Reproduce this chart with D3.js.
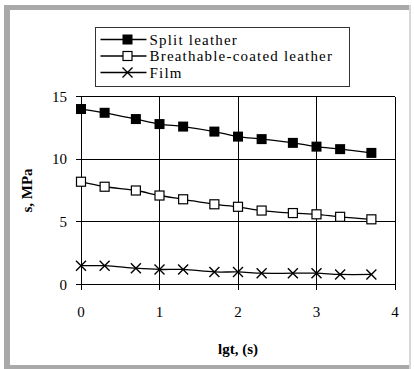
<!DOCTYPE html>
<html>
<head>
<meta charset="utf-8">
<script src="https://cdn.jsdelivr.net/npm/d3@7"></script>
<style>
  body { margin: 0; background: #fff; }
</style>
</head>
<body>
<div id="chart"></div>
<script>
// lg of time in seconds: 1, 2, 5, 10, ... 5000
const lgt = [0, 0.301, 0.699, 1, 1.301, 1.699, 2, 2.301, 2.699, 3, 3.301, 3.699]
const splitLeather = [14.0, 13.7, 13.2, 12.8, 12.6, 12.2, 11.8, 11.6, 11.3, 11.0, 10.8, 10.5]
const coatedLeather = [8.2, 7.8, 7.5, 7.1, 6.8, 6.4, 6.2, 5.9, 5.7, 5.6, 5.4, 5.2]
const film = [1.5, 1.5, 1.3, 1.2, 1.2, 1.0, 1.0, 0.9, 0.9, 0.9, 0.8, 0.8]
const seriesNames = ['Split leather', 'Breathable-coated leather', 'Film']
const xTicks = [0, 1, 2, 3, 4]
const yTicks = [0, 5, 10, 15]

const width = 414, height = 369
const margin = { top: 96.5, right: 19, bottom: 84.5, left: 81 }
const serif = "'Liberation Serif', 'Times New Roman', Times, 'DejaVu Serif', serif"

const svg = d3.select('#chart').append('svg')
  .attr('width', width)
  .attr('height', height)
  .attr('font-family', serif)
  .style('font-family', serif)

// outer grey frame
svg.append('rect').attr('x', 4).attr('y', 5).attr('width', 6).attr('height', 364).attr('fill', '#a9a9a9')
svg.append('rect').attr('x', 4).attr('y', 5).attr('width', 406).attr('height', 5).attr('fill', '#a9a9a9')
svg.append('rect').attr('x', 4).attr('y', 365).attr('width', 406).attr('height', 4).attr('fill', '#a9a9a9')
svg.append('rect').attr('x', 409).attr('y', 5).attr('width', 2).attr('height', 364).attr('fill', '#d8d8d8')

const x = d3.scaleLinear().domain([0, 4]).range([margin.left, width - margin.right])
const y = d3.scaleLinear().domain([0, 15]).range([height - margin.bottom, margin.top])

const plot = svg.append('g')

// grid + plot box
plot.selectAll('.vgrid')
  .data(xTicks)
  .join('line')
  .attr('class', 'vgrid')
  .attr('x1', d => x(d)).attr('x2', d => x(d))
  .attr('y1', y(15)).attr('y2', y(0) + 5)
  .attr('stroke', '#000').attr('stroke-width', 1)
  .attr('shape-rendering', 'crispEdges')

plot.selectAll('.hgrid')
  .data(yTicks)
  .join('line')
  .attr('class', 'hgrid')
  .attr('x1', x(0) - 5).attr('x2', x(4))
  .attr('y1', d => y(d)).attr('y2', d => y(d))
  .attr('stroke', '#000').attr('stroke-width', 1)
  .attr('shape-rendering', 'crispEdges')

// tick labels
plot.selectAll('.xlab')
  .data(xTicks)
  .join('text')
  .attr('x', d => x(d))
  .attr('y', y(0) + 32)
  .attr('text-anchor', 'middle')
  .attr('font-size', 15)
  .text(d => d)

plot.selectAll('.ylab')
  .data(yTicks)
  .join('text')
  .attr('x', x(0) - 14)
  .attr('y', d => y(d) + 5)
  .attr('text-anchor', 'end')
  .attr('font-size', 15)
  .text(d => d)

svg.append('text')
  .attr('x', x(2))
  .attr('y', 354)
  .attr('text-anchor', 'middle')
  .attr('font-size', 15)
  .attr('font-weight', 'bold')
  .text('lgt, (s)')

svg.append('text')
  .attr('transform', `translate(32, ${y(7.5)}) rotate(-90)`)
  .attr('text-anchor', 'middle')
  .attr('font-size', 15)
  .attr('font-weight', 'bold')
  .text('s, MPa')

const line = d3.line()
  .x(d => x(d[0]))
  .y(d => y(d[1]))
  .curve(d3.curveCatmullRom)

const allSeries = [splitLeather, coatedLeather, film].map((vals, i) => ({
  name: seriesNames[i],
  kind: i,
  points: lgt.map((t, j) => [t, vals[j]])
}))

function drawMarker(g, kind, size) {
  const h = size / 2
  if (kind === 0) {
    g.append('rect').attr('x', -h).attr('y', -h).attr('width', size).attr('height', size)
      .attr('fill', '#000')
  } else if (kind === 1) {
    g.append('rect').attr('x', -h + 0.5).attr('y', -h + 0.5).attr('width', size - 1).attr('height', size - 1)
      .attr('fill', '#fff').attr('stroke', '#000').attr('stroke-width', 1.2)
  } else {
    g.append('path').attr('d', `M${-h},${-h}L${h},${h}M${-h},${h}L${h},${-h}`)
      .attr('stroke', '#000').attr('stroke-width', 1.4).attr('fill', 'none')
  }
}

allSeries.forEach(s => {
  plot.append('path')
    .datum(s.points)
    .attr('d', line)
    .attr('fill', 'none')
    .attr('stroke', '#000')
    .attr('stroke-width', 1.3)

  plot.selectAll(null)
    .data(s.points)
    .join('g')
    .attr('transform', d => `translate(${x(d[0])},${y(d[1])})`)
    .each(function() { drawMarker(d3.select(this), s.kind, 10) })
})

// legend
const legend = svg.append('g').attr('transform', 'translate(95.5, 27.5)')
legend.append('rect')
  .attr('width', 254).attr('height', 59)
  .attr('fill', '#fff').attr('stroke', '#333').attr('stroke-width', 1)

allSeries.forEach((s, i) => {
  const row = legend.append('g').attr('transform', `translate(0, ${12 + i * 16.5})`)
  row.append('line').attr('x1', 5).attr('x2', 51).attr('y1', 0).attr('y2', 0)
    .attr('stroke', '#000').attr('stroke-width', 1.3)
  const m = row.append('g').attr('transform', 'translate(32, 0)')
  drawMarker(m, s.kind, 10)
  row.append('text')
    .attr('x', 54).attr('y', 5)
    .attr('font-size', 15)
    .attr('letter-spacing', 1.2)
    .text(s.name)
})
</script>
</body>
</html>
